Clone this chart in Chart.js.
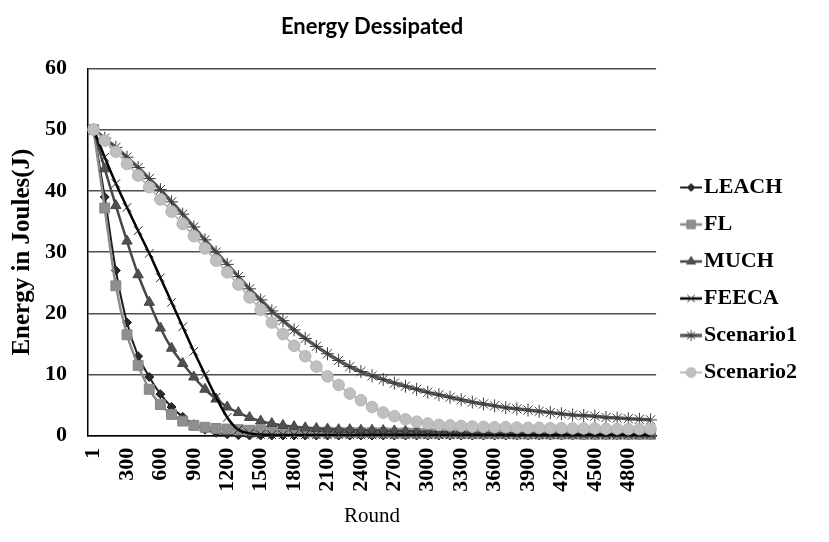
<!DOCTYPE html>
<html>
<head>
<meta charset="utf-8">
<script src="https://cdn.jsdelivr.net/npm/chart.js@4.4.1/dist/chart.umd.min.js"></script>
<style>
  html, body { margin: 0; padding: 0; background: #fff; }
  canvas { display: block; }
</style>
</head>
<body>
<canvas id="graficoEnergia" width="829" height="542"></canvas>
<script>
// Rondas (eje X): una categoría cada 100 rondas
const rounds = ['1', '100', '200', '300', '400', '500', '600', '700', '800', '900',
  '1000', '1100', '1200', '1300', '1400', '1500', '1600', '1700', '1800', '1900',
  '2000', '2100', '2200', '2300', '2400', '2500', '2600', '2700', '2800', '2900',
  '3000', '3100', '3200', '3300', '3400', '3500', '3600', '3700', '3800', '3900',
  '4000', '4100', '4200', '4300', '4400', '4500', '4600', '4700', '4800', '4900', '5000'];

// Energía restante (J)
const leach = [50, 39, 27, 18.5, 13, 9.6, 6.8, 4.7, 3.1, 1.9,
  1.0, 0.5, 0.25, 0.1, 0.05, 0.05, 0.05, 0.05, 0.05, 0.05,
  0.05, 0.05, 0.05, 0.05, 0.05, 0.05, 0.05, 0.05, 0.05, 0.05,
  0.05, 0.05, 0.05, 0.05, 0.05, 0.05, 0.05, 0.05, 0.05, 0.05,
  0.05, 0.05, 0.05, 0.05, 0.05, 0.05, 0.05, 0.05, 0.05, 0.05, 0.05];
const fl = [50, 37.2, 24.5, 16.5, 11.5, 7.6, 5.1, 3.5, 2.4, 1.7,
  1.4, 1.2, 1.1, 1.0, 0.9, 0.85, 0.8, 0.75, 0.7, 0.65,
  0.6, 0.6, 0.55, 0.55, 0.5, 0.5, 0.5, 0.45, 0.45, 0.45,
  0.4, 0.4, 0.4, 0.4, 0.35, 0.35, 0.35, 0.35, 0.3, 0.3,
  0.3, 0.3, 0.3, 0.3, 0.25, 0.25, 0.25, 0.25, 0.25, 0.25, 0.25];
const much = [50, 43.6, 37.6, 31.8, 26.3, 21.8, 17.6, 14.3, 11.8, 9.6,
  7.6, 6.0, 4.7, 3.8, 3.0, 2.4, 2.0, 1.7, 1.5, 1.3,
  1.2, 1.1, 1.0, 1.0, 0.9, 0.9, 0.85, 0.8, 0.75, 0.7,
  0.65, 0.6, 0.55, 0.5, 0.5, 0.45, 0.45, 0.4, 0.4, 0.4,
  0.35, 0.35, 0.35, 0.3, 0.3, 0.3, 0.3, 0.3, 0.3, 0.3, 0.3];
const feeca = [50, 45.5, 41.2, 37.3, 33.5, 29.8, 25.8, 21.8, 17.8, 13.8,
  10.0, 6.3, 3.0, 1.0, 0.4, 0.2, 0.15, 0.15, 0.15, 0.15,
  0.15, 0.15, 0.15, 0.15, 0.15, 0.15, 0.15, 0.15, 0.15, 0.15,
  0.15, 0.15, 0.15, 0.15, 0.15, 0.15, 0.15, 0.15, 0.15, 0.15,
  0.15, 0.15, 0.15, 0.15, 0.15, 0.15, 0.15, 0.15, 0.15, 0.15, 0.15];
const scenario1 = [50, 48.6, 47.1, 45.5, 43.8, 42.0, 40.2, 38.2, 36.2, 34.1,
  32.0, 30.0, 28.0, 26.0, 24.0, 22.2, 20.4, 18.8, 17.3, 15.9,
  14.6, 13.4, 12.3, 11.3, 10.5, 9.8, 9.2, 8.6, 8.1, 7.6,
  7.1, 6.7, 6.3, 5.9, 5.5, 5.2, 4.9, 4.6, 4.4, 4.2,
  4.0, 3.8, 3.6, 3.4, 3.3, 3.2, 3.0, 2.9, 2.8, 2.7, 2.6];
const scenario2 = [50, 48.2, 46.4, 44.4, 42.5, 40.6, 38.6, 36.6, 34.6, 32.6,
  30.6, 28.6, 26.7, 24.7, 22.6, 20.6, 18.5, 16.6, 14.7, 13.0,
  11.3, 9.7, 8.3, 6.9, 5.8, 4.7, 3.8, 3.2, 2.7, 2.3,
  2.0, 1.8, 1.7, 1.6, 1.5, 1.45, 1.4, 1.4, 1.35, 1.3,
  1.3, 1.25, 1.25, 1.2, 1.2, 1.2, 1.15, 1.15, 1.1, 1.1, 1.1];

const serif = "'Liberation Serif', 'Times New Roman', serif";

// Estilos de cada serie (Excel en escala de grises)
const series = [
  { label: 'LEACH', data: leach, borderColor: '#1c1c1c', borderWidth: 2, pointStyle: 'rectRot', pointRadius: 4.5, pointBackgroundColor: '#2a2a2a', pointBorderColor: '#1c1c1c', pointBorderWidth: 1 },
  { label: 'FL', data: fl, borderColor: '#8c8c8c', borderWidth: 2.5, pointStyle: 'rect', pointRadius: 7, pointBackgroundColor: '#8f8f8f', pointBorderColor: '#858585', pointBorderWidth: 1 },
  { label: 'MUCH', data: much, borderColor: '#474747', borderWidth: 2.5, pointStyle: 'triangle', pointRadius: 6, pointBackgroundColor: '#505050', pointBorderColor: '#474747', pointBorderWidth: 1 },
  { label: 'FEECA', data: feeca, borderColor: '#000000', borderWidth: 2.5, pointStyle: 'crossRot', pointRadius: 6, pointBackgroundColor: '#000000', pointBorderColor: '#222222', pointBorderWidth: 1 },
  { label: 'Scenario1', data: scenario1, borderColor: '#5a5a5a', borderWidth: 3.5, pointStyle: 'star', pointRadius: 6.5, pointBackgroundColor: '#333333', pointBorderColor: '#3a3a3a', pointBorderWidth: 1 },
  { label: 'Scenario2', data: scenario2, borderColor: '#bdbdbd', borderWidth: 2, pointStyle: 'circle', pointRadius: 5.8, pointBackgroundColor: '#bfbfbf', pointBorderColor: '#b5b5b5', pointBorderWidth: 1 }
];

// Icono de leyenda: tramo de línea con el marcador en medio
function iconoLeyenda(s) {
  const c = document.createElement('canvas');
  c.width = 40; c.height = 20;
  const ctx = c.getContext('2d');
  ctx.strokeStyle = s.borderColor;
  ctx.lineWidth = s.borderWidth;
  ctx.beginPath(); ctx.moveTo(18, 10); ctx.lineTo(40, 10); ctx.stroke();
  ctx.fillStyle = s.pointBackgroundColor;
  ctx.strokeStyle = s.pointBorderColor;
  ctx.lineWidth = s.pointBorderWidth;
  Chart.helpers.drawPoint(ctx, { pointStyle: s.pointStyle, radius: s.pointRadius * 0.85, borderWidth: s.pointBorderWidth, rotation: 0 }, 29, 10);
  return c;
}
const iconos = series.map(iconoLeyenda);

const ctx = document.getElementById('graficoEnergia').getContext('2d');
new Chart(ctx, {
  type: 'line',
  data: {
    labels: rounds,
    datasets: series.map((s, i) => Object.assign({}, s, {
      fill: false,
      tension: 0.3,
      clip: false,
      order: series.length - i
    }))
  },
  options: {
    responsive: false,
    animation: false,
    devicePixelRatio: 1,
    layout: { padding: { left: 4, right: 22, top: 0, bottom: 0 } },
    plugins: {
      title: {
        display: true,
        fullSize: false,
        text: 'Energy Dessipated',
        color: '#000',
        font: { family: 'Lato', size: 22, weight: 'bold' },
        padding: { top: 14, bottom: 28 }
      },
      legend: {
        position: 'right',
        title: { display: true, text: ' ', font: { size: 15 }, padding: 0 },
        labels: {
          usePointStyle: true,
          pointStyleWidth: 22,
          padding: 15,
          color: '#000',
          font: { family: serif, size: 22, weight: 'bold' },
          sort: (a, b) => a.datasetIndex - b.datasetIndex,
          generateLabels(chart) {
            const items = Chart.defaults.plugins.legend.labels.generateLabels(chart);
            items.forEach(it => { it.pointStyle = iconos[it.datasetIndex]; });
            return items;
          }
        }
      },
      tooltip: { enabled: false }
    },
    scales: {
      x: {
        offset: true,
        grid: { display: false },
        border: { display: true, color: '#000', width: 1.5 },
        ticks: {
          autoSkip: false,
          minRotation: 90,
          maxRotation: 90,
          padding: 4,
          color: '#000',
          font: { family: serif, size: 22, weight: 'bold' },
          callback: function (value, index) {
            return index % 3 === 0 ? this.getLabelForValue(value) : '';
          }
        },
        title: {
          display: true,
          text: 'Round',
          color: '#000',
          font: { family: serif, size: 21 },
          padding: { top: 8, bottom: 13 }
        }
      },
      y: {
        min: 0,
        max: 60,
        grid: { color: '#4d4d4d', lineWidth: 1.5, drawTicks: false },
        border: { display: true, color: '#000', width: 1.5 },
        ticks: {
          stepSize: 10,
          padding: 21,
          color: '#000',
          font: { family: serif, size: 22, weight: 'bold' }
        },
        title: {
          display: true,
          text: 'Energy in Joules(J)',
          color: '#000',
          font: { family: serif, size: 25, weight: 'bold' },
          padding: { top: 4, bottom: -14 }
        }
      }
    }
  }
});
</script>
</body>
</html>
